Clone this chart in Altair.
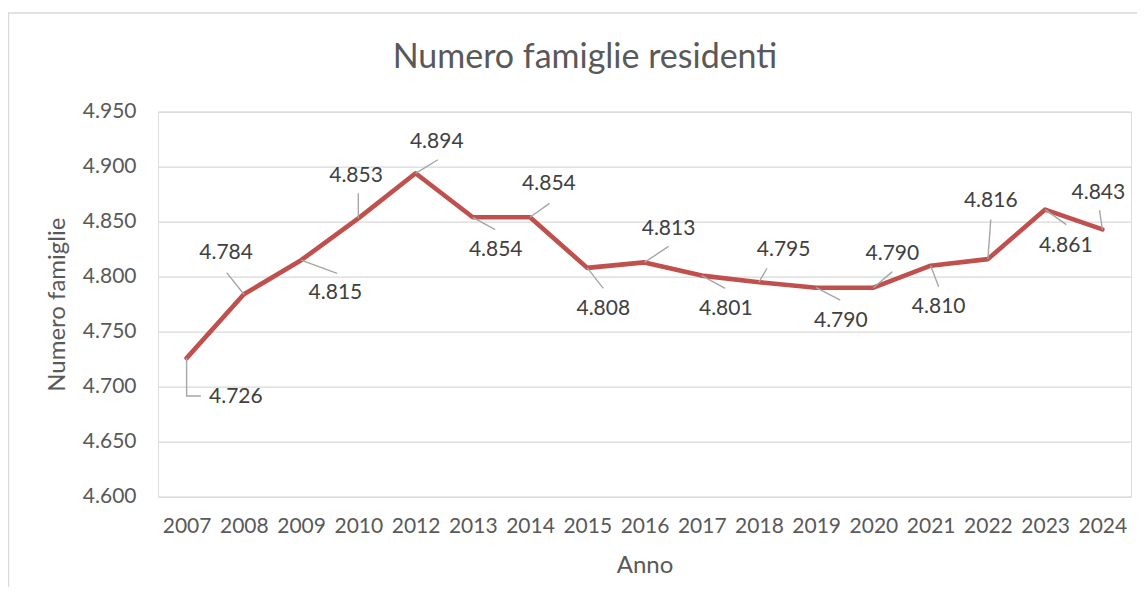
import json
import altair as alt
import pandas as pd

# ---- data ----
title_text = "Numero famiglie residenti"
years = ["2007", "2008", "2009", "2010", "2012", "2013", "2014", "2015", "2016",
         "2017", "2018", "2019", "2020", "2021", "2022", "2023", "2024"]
values = [4726, 4784, 4815, 4853, 4894, 4854, 4854, 4808, 4813,
          4801, 4795, 4790, 4790, 4810, 4816, 4861, 4843]

# data-label placement (x in category steps, y in value units, relative to the point)
label_dx = [0.86, -0.31, 0.60, -0.04, 0.37, 0.40, 0.33, 0.28, 0.42,
            0.42, 0.43, 0.43, 0.33, 0.14, 0.05, 0.36, -0.07]
label_dy = [-35.3, 37.5, -30.2, 38.1, 28.2, -29.5, 30.0, -37.8, 30.4,
            -30.0, 29.5, -30.3, 30.5, -37.5, 52.8, -32.9, 33.4]
# leader-line end (same units)
lead_dx = [0.25, -0.30, 0.63, 0.0, 0.39, 0.39, 0.34, 0.28, 0.42,
           0.41, 0.14, 0.42, 0.33, 0.14, 0.05, 0.37, -0.05]
lead_dy = [-34.4, 19.7, -11.9, 22.8, 12.3, -11.2, 12.6, -18.6, 14.5,
           -11.6, 12.7, -11.4, 14.6, -19.2, 36.0, -13.7, 17.5]
# elbow of a bent leader line (only the first one is bent)
elbow = {0: (0.0, -34.4)}

idx = list(range(len(years)))
df = pd.DataFrame({"idx": idx, "anno": years, "valore": values})
df["lx"] = [i + d for i, d in zip(idx, label_dx)]
df["ly"] = [v + d for v, d in zip(values, label_dy)]

rows = []
for i, v in zip(idx, values):
    rows.append({"lid": i, "o": 0, "x": i, "y": v})
    if i in elbow:
        ex, ey = elbow[i]
        rows.append({"lid": i, "o": 1, "x": i + ex, "y": v + ey})
    rows.append({"lid": i, "o": 2, "x": i + lead_dx[i], "y": v + lead_dy[i]})
leaders = pd.DataFrame(rows)

FONT = "Lato"
TXT = "#595959"

year_expr = json.dumps(years).replace('"', "'") + "[datum.value]"
it_fmt = "replace(format(datum.value, ',.0f'), ',', '.')"

xscale = alt.Scale(domain=[-0.5, 16.5], nice=False, zero=False)
yscale = alt.Scale(domain=[4600, 4950], nice=False, zero=False)

x_axis = alt.Axis(values=idx, labelExpr=year_expr, title="Anno", grid=False,
                  domain=False, ticks=False, labelFont=FONT, labelFontSize=21,
                  labelColor=TXT, labelPadding=19, titleFont=FONT,
                  titleFontSize=24, titleFontWeight="normal", titleColor=TXT,
                  titlePadding=17)
y_axis = alt.Axis(values=list(range(4600, 4951, 50)), labelExpr=it_fmt,
                  title="Numero famiglie", grid=True, gridColor="#D9D9D9",
                  gridWidth=1.3, domain=False, ticks=False, labelFont=FONT,
                  labelFontSize=21, labelColor=TXT, labelPadding=22,
                  titleFont=FONT, titleFontSize=24, titleFontWeight="normal",
                  titleColor=TXT, titlePadding=13)

base = alt.Chart(df)
one = pd.DataFrame({"t": [title_text]})

frame = alt.Chart(one).mark_rect(
    fill=None, stroke="#D9D9D9", strokeWidth=1.3
).encode(x=alt.value(-149.5), x2=alt.value(1300), y=alt.value(-98.7),
         y2=alt.value(900))

title = alt.Chart(one).mark_text(
    font=FONT, fontSize=34, color=TXT, align="center", baseline="alphabetic"
).encode(x=alt.value(427), y=alt.value(-43.5), text="t:N")

line = base.mark_line(color="#C0504D", strokeWidth=4.6, strokeCap="round",
                      strokeJoin="round").encode(
    x=alt.X("idx:Q", scale=xscale, axis=x_axis),
    y=alt.Y("valore:Q", scale=yscale, axis=y_axis),
)

lead = alt.Chart(leaders).mark_line(color="#A6A6A6", strokeWidth=1.4).encode(
    x=alt.X("x:Q", scale=xscale),
    y=alt.Y("y:Q", scale=yscale),
    detail="lid:N",
    order="o:Q",
)

labels = base.transform_calculate(
    testo="replace(format(datum.valore, ',.0f'), ',', '.')"
).mark_text(font=FONT, fontSize=21, color="#404040", align="center",
            baseline="middle").encode(
    x=alt.X("lx:Q", scale=xscale),
    y=alt.Y("ly:Q", scale=yscale),
    text="testo:N",
)

chart = alt.layer(frame, title, line, lead, labels).properties(
    width=973, height=385,
    autosize=alt.AutoSizeParams(type="none"),
    padding={"left": 150, "top": 103.7, "right": 6, "bottom": 90},
).configure_view(stroke=None).configure(background="white")

chart.save("out.html", embed_options={"renderer": "svg", "actions": False})
